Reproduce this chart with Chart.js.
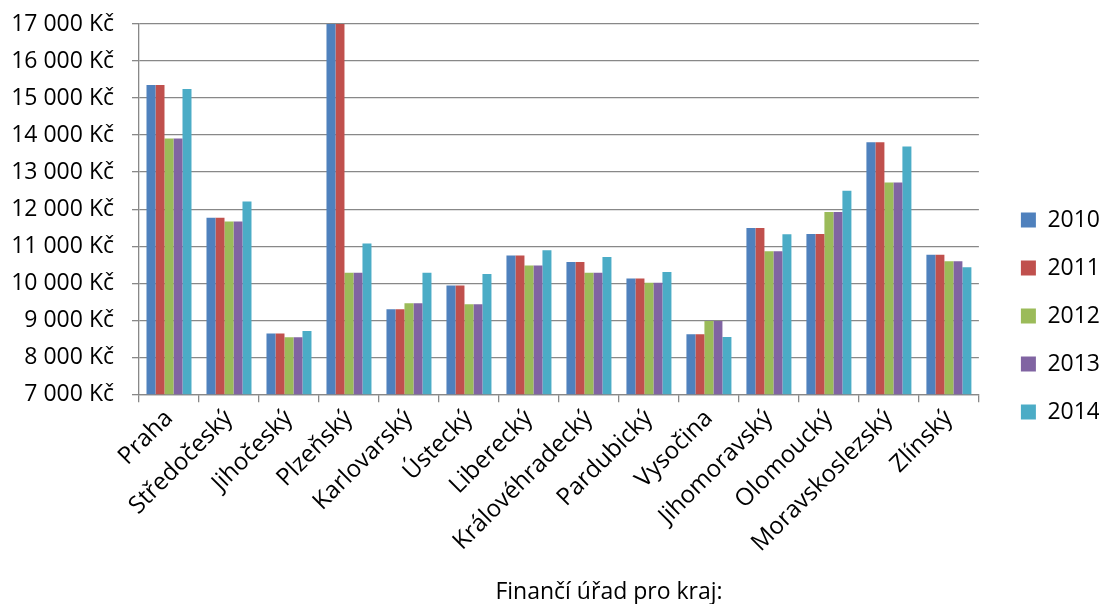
<!DOCTYPE html>
<html>
<head>
<meta charset="utf-8">
<script src="https://cdn.jsdelivr.net/npm/chart.js@4"></script>
<style>
  html, body { margin: 0; padding: 0; background: #fff; }
  #wrap { width: 1099px; height: 604px; }
</style>
</head>
<body>
<div id="wrap"><canvas id="c" width="1099" height="604"></canvas></div>
<script>
// Average monthly amounts by regional tax office, 2010–2014
const categories = ['Praha', 'Středočeský', 'Jihočeský', 'Plzeňský', 'Karlovarský', 'Ústecký',
  'Liberecký', 'Královéhradecký', 'Pardubický', 'Vysočina', 'Jihomoravský', 'Olomoucký',
  'Moravskoslezský', 'Zlínský'];
const years = ['2010', '2011', '2012', '2013', '2014'];
const values2010 = [15350, 11770, 8640, 17450, 9300, 9940, 10750, 10570, 10130, 8620, 11490, 11330, 13810, 10770];
const values2011 = [15350, 11770, 8640, 17450, 9300, 9940, 10750, 10570, 10130, 8620, 11490, 11330, 13810, 10770];
const values2012 = [13910, 11665, 8540, 10280, 9460, 9430, 10475, 10280, 10015, 8980, 10865, 11920, 12720, 10595];
const values2013 = [13910, 11665, 8540, 10280, 9460, 9430, 10475, 10280, 10015, 8980, 10865, 11920, 12720, 10595];
const values2014 = [15245, 12205, 8710, 11070, 10280, 10250, 10890, 10710, 10305, 8550, 11325, 12500, 13690, 10430];
const yTickValues = [7000, 8000, 9000, 10000, 11000, 12000, 13000, 14000, 15000, 16000, 17000];
const axisTitle = 'Finančí úřad pro kraj:';

const seriesValues = [values2010, values2011, values2012, values2013, values2014];
const colors = ['#4F81BD', '#C0504D', '#9BBB59', '#8064A2', '#4BACC6'];

const FONT = "'Open Sans', sans-serif";
const GRID = '#888888';

function formatKc(v) {
  return String(v).replace(/\B(?=(\d{3})+(?!\d))/g, ' ') + ' Kč';
}

// Axis title centred under the plot-plus-legend block
const bottomTitle = {
  id: 'bottomTitle',
  afterDraw(chart) {
    const ctx = chart.ctx;
    ctx.save();
    ctx.font = '23px ' + FONT;
    ctx.fillStyle = '#000';
    ctx.textAlign = 'center';
    ctx.textBaseline = 'middle';
    ctx.fillText(axisTitle, (chart.chartArea.left + chart.width - 20) / 2, 592);
    ctx.restore();
  }
};

new Chart(document.getElementById('c'), {
  type: 'bar',
  data: {
    labels: categories,
    datasets: years.map((y, i) => ({
      label: y,
      data: seriesValues[i],
      backgroundColor: colors[i],
      borderWidth: 0,
      categoryPercentage: 0.75,
      barPercentage: 1.0
    }))
  },
  plugins: [bottomTitle],
  options: {
    responsive: false,
    animation: false,
    devicePixelRatio: 1,
    layout: { padding: { top: 24, left: 0, right: -11, bottom: -4 } },
    plugins: {
      tooltip: { enabled: false },
      legend: {
        position: 'right',
        labels: {
          boxWidth: 15,
          boxHeight: 15,
          padding: 25,
          color: '#000',
          font: { family: FONT, size: 23 }
        }
      }
    },
    scales: {
      x: {
        offset: true,
        grid: { display: true, drawOnChartArea: false, drawTicks: true, tickLength: 8, color: GRID, lineWidth: 1.3, offset: true },
        border: { display: true, color: GRID, width: 1.3 },
        ticks: {
          color: '#000',
          font: { family: FONT, size: 24 },
          maxRotation: 45,
          minRotation: 45,
          autoSkip: false,
          padding: 2
        },
        afterFit(scale) { scale.height = 213.7; scale.paddingLeft = 0; scale.paddingRight = 0; }
      },
      y: {
        min: 7000,
        max: 17000,
        afterBuildTicks(scale) { scale.ticks = yTickValues.map(v => ({ value: v })); },
        grid: { color: GRID, lineWidth: 1.3, tickLength: 7, drawTicks: true },
        border: { display: true, color: GRID, width: 1.3 },
        ticks: {
          color: '#000',
          font: { family: FONT, size: 23 },
          padding: 18,
          callback: v => formatKc(v)
        },
        afterFit(scale) { scale.width = 139; scale.paddingTop = 0; scale.paddingBottom = 0; }
      },
      gap: {
        position: 'right',
        display: true,
        grid: { display: false },
        border: { display: false },
        ticks: { display: false },
        afterFit(scale) { scale.width = 17; scale.paddingTop = 0; scale.paddingBottom = 0; }
      }
    }
  }
});
</script>
</body>
</html>
